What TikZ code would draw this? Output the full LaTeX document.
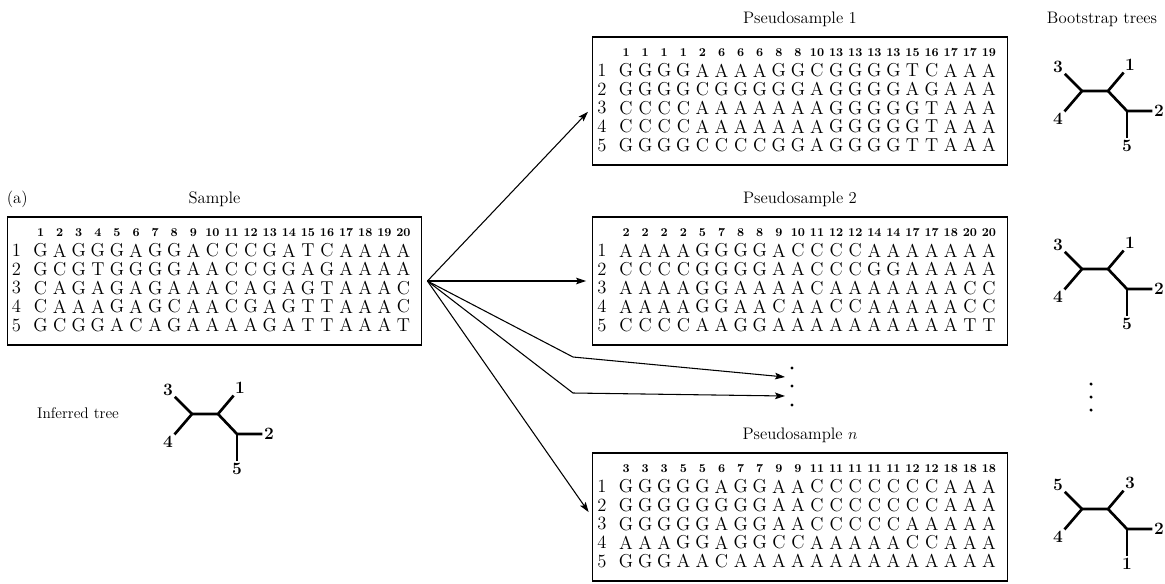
\documentclass[tikz,border=0pt]{standalone}
\usetikzlibrary{arrows.meta,calc,positioning}

\tikzset{
  seqbox/.style={draw, line width=0.9pt, minimum width=311pt, minimum height=96pt, inner sep=0pt},
  base/.style={inner sep=0pt, font=\fontsize{14}{15}\selectfont},
  site/.style={inner sep=0pt, font=\fontsize{9}{10}\selectfont\bfseries},
  title/.style={inner sep=0pt, font=\fontsize{12.5}{14}\selectfont},
  leaf/.style={inner sep=1.2pt, font=\fontsize{13}{14}\selectfont\bfseries},
  branch/.style={line width=2pt, line join=round},
  arr/.style={-{Stealth[length=7.5pt,width=5pt,inset=1.5pt]}, line width=0.8pt},
  dot/.style={circle, fill, inner sep=0pt, minimum size=2.6pt}
}

% site numbers and the five sequences of one box
\newcommand{\seqtable}[3]{%
  \begin{scope}[shift={(#1.north west)}]
    \foreach \sn [count=\si] in {#2}
      \node[site] (#1-h\si) at ({34+19.1*(\si-1)},16) {\sn};
    \foreach \rw [count=\ri] in {#3} {
      \node[base] (#1-n\ri) at (10,{34+18.7*(\ri-1)}) {\ri};
      \foreach \cl [count=\ci] in \rw
        \node[base] (#1-\ri-\ci) at ({34+19.1*(\ci-1)},{34+18.7*(\ri-1)}) {\cl};
    }
  \end{scope}}

% unrooted five-taxon tree, #2 = left fork
\newcommand{\bstree}[7]{%
  \coordinate (#1-l) at #2;
  \coordinate (#1-r) at ($(#1-l)+(26,0)$);
  \coordinate (#1-t) at ($(#1-l)+(45,20)$);
  \node[leaf] (#1-a) at ($(#1-l)+(-24,-24)$) {#3};
  \node[leaf] (#1-b) at ($(#1-l)+(-24,28)$) {#4};
  \node[leaf] (#1-c) at ($(#1-l)+(48,-26)$) {#5};
  \node[leaf] (#1-d) at ($(#1-l)+(77,20)$) {#6};
  \node[leaf] (#1-e) at ($(#1-l)+(45,55)$) {#7};
  \draw[branch] (#1-a) -- (#1-l) -- (#1-b);
  \draw[branch] (#1-l) -- (#1-r) -- (#1-c);
  \draw[branch] (#1-r) -- (#1-t) -- (#1-d);
  \draw[branch] (#1-t) -- (#1-e);}

\begin{document}
\begin{tikzpicture}[x=0.75pt, y=-0.75pt]
\useasboundingbox (0,0) rectangle (1165,583);

% ---------------- Boxes ----------------
\node[seqbox] (sample) at (214.5,281) {};
\node[seqbox] (ps1) at (800,101) {};
\node[seqbox] (ps2) at (800,281) {};
\node[seqbox] (psn) at (800,517) {};

\node[title, above=7pt of sample] (sample-title) {Sample};
\node[title, above=7pt of ps1] (ps1-title) {Pseudosample 1};
\node[title, above=7pt of ps2] (ps2-title) {Pseudosample 2};
\node[title, above=7pt of psn] (psn-title) {Pseudosample $n$};
\node[title, anchor=base west] (tag) at (sample-title.base -| sample.west) {(a)};
\coordinate (bs) at (1102,0);
\node[title, anchor=base] (bs-title) at (ps1-title.base -| bs) {Bootstrap trees};

% ---------------- Sequences ----------------
\seqtable{sample}{1,2,3,4,5,6,7,8,9,10,11,12,13,14,15,16,17,18,19,20}{
  {G,A,G,G,G,A,G,G,A,C,C,C,G,A,T,C,A,A,A,A},
  {G,C,G,T,G,G,G,G,A,A,C,C,G,G,A,G,A,A,A,A},
  {C,A,G,A,G,A,G,A,A,A,C,A,G,A,G,T,A,A,A,C},
  {C,A,A,A,G,A,G,C,A,A,C,G,A,G,T,T,A,A,A,C},
  {G,C,G,G,A,C,A,G,A,A,A,A,G,A,T,T,A,A,A,T}}

\seqtable{ps1}{1,1,1,1,2,6,6,6,8,8,10,13,13,13,13,15,16,17,17,19}{
  {G,G,G,G,A,A,A,A,G,G,C,G,G,G,G,T,C,A,A,A},
  {G,G,G,G,C,G,G,G,G,G,A,G,G,G,G,A,G,A,A,A},
  {C,C,C,C,A,A,A,A,A,A,A,G,G,G,G,G,T,A,A,A},
  {C,C,C,C,A,A,A,A,A,A,A,G,G,G,G,G,T,A,A,A},
  {G,G,G,G,C,C,C,C,G,G,A,G,G,G,G,T,T,A,A,A}}

\seqtable{ps2}{2,2,2,2,5,7,8,8,9,10,11,12,12,14,14,17,17,18,20,20}{
  {A,A,A,A,G,G,G,G,A,C,C,C,C,A,A,A,A,A,A,A},
  {C,C,C,C,G,G,G,G,A,A,C,C,C,G,G,A,A,A,A,A},
  {A,A,A,A,G,G,A,A,A,A,C,A,A,A,A,A,A,A,C,C},
  {A,A,A,A,G,G,A,A,C,A,A,C,C,A,A,A,A,A,C,C},
  {C,C,C,C,A,A,G,G,A,A,A,A,A,A,A,A,A,A,T,T}}

\seqtable{psn}{3,3,3,5,5,6,7,7,9,9,11,11,11,11,11,12,12,18,18,18}{
  {G,G,G,G,G,A,G,G,A,A,C,C,C,C,C,C,C,A,A,A},
  {G,G,G,G,G,G,G,G,A,A,C,C,C,C,C,C,C,A,A,A},
  {G,G,G,G,G,A,G,G,A,A,C,C,C,C,C,A,A,A,A,A},
  {A,A,A,G,G,A,G,G,C,C,A,A,A,A,A,C,C,A,A,A},
  {G,G,G,A,A,C,A,A,A,A,A,A,A,A,A,A,A,A,A,A}}

% ---------------- Resampling arrows ----------------
\coordinate (fan) at ([xshift=3.75pt]sample.east);
\coordinate (in1) at ($(ps1.north west)!0.55!(ps1.south west)$);
\coordinate (k1) at (573,357);
\coordinate (k2) at (573,393);
\coordinate (e1) at (785,377);
\coordinate (e2) at (785,396);

\draw[arr, shorten >=4.5pt] (fan) -- (in1);
\draw[arr, shorten >=4.5pt] (fan) -- (ps2.west);
\draw[arr] (fan) -- (k1) -- (e1);
\draw[arr] (fan) -- (k2) -- (e2);
\draw[arr, shorten >=4.5pt] (fan) -- (psn.west);

\foreach \yy [count=\di] in {368,386,405}
  \node[dot] (mid\di) at (792,\yy) {};

% ---------------- Trees ----------------
\node[title, font=\fontsize{11.5}{13}\selectfont] (inf-title) at (78,413) {Inferred tree};
\bstree{inf}{(192,414)}{3}{4}{1}{2}{5}
\bstree{bs1}{(1082,91)}{3}{4}{1}{2}{5}
\bstree{bs2}{(1082,269)}{3}{4}{1}{2}{5}
\bstree{bsn}{(1082,509)}{5}{4}{3}{2}{1}

\foreach \yy [count=\di] in {384,397,410}
  \node[dot] (gap\di) at (1091,\yy) {};

\end{tikzpicture}
\end{document}
